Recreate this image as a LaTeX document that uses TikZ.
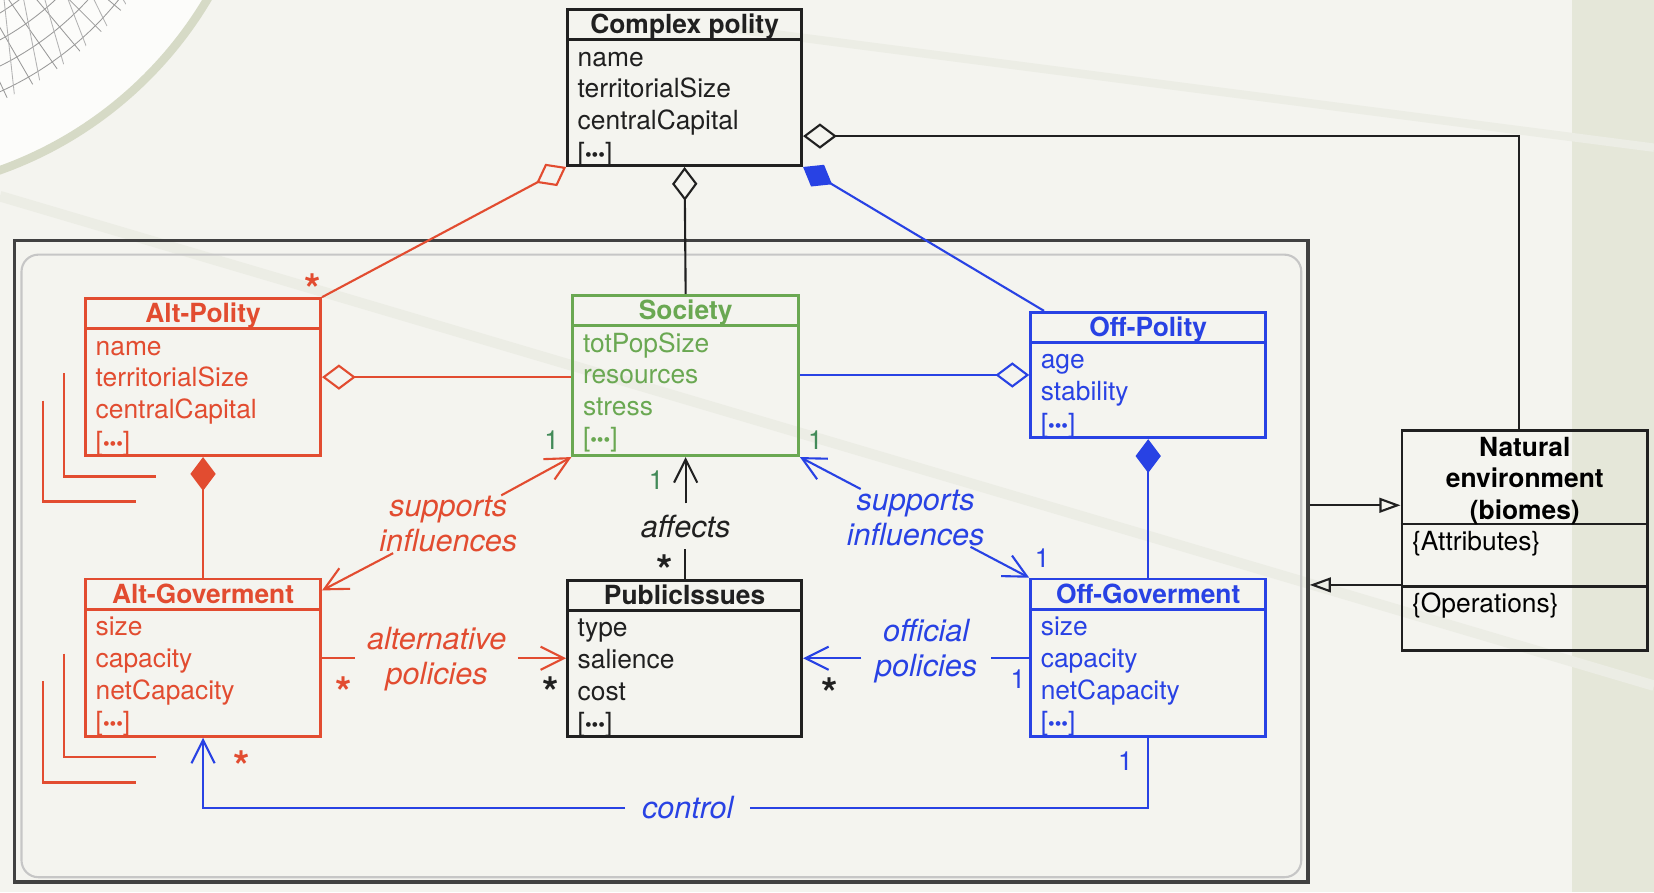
\documentclass[tikz,border=0pt]{standalone}
\usepackage{fontspec}
\setmainfont{TeX Gyre Heros}
\usetikzlibrary{arrows.meta,fit}

\definecolor{bg}{RGB}{244,244,239}
\definecolor{strip}{RGB}{229,231,217}
\definecolor{rim}{RGB}{214,218,198}
\definecolor{streak}{RGB}{236,237,229}
\definecolor{ink}{RGB}{32,32,32}
\definecolor{altred}{RGB}{226,76,48}
\definecolor{socgreen}{RGB}{106,168,82}
\definecolor{onegreen}{RGB}{66,138,88}
\definecolor{offblue}{RGB}{40,66,228}

\newcommand{\attmore}{[{\small•••}]}
% box, title bar, attributes
\newcommand{\umlclass}[6]{%
  \node[cls, draw=#2, fit={#3 #4}] (#1) {};
  \draw[#2, line width=1.3pt] ([yshift=-15pt]#1.north west) -- ([yshift=-15pt]#1.north east);
  \node[ttl, text=#2] (#1-t) at ([yshift=-7.5pt]#1.north) {#5};
  \node[att, text=#2] (#1-a) at ([yshift=-15pt]#1.north west) {\strut#6};}

\tikzset{cls/.style = {line width=1.3pt, inner sep=0pt},
    ttl/.style = {font=\fontsize{12.5}{15}\selectfont\bfseries, inner sep=0pt, text height=9pt, text depth=0pt},
    att/.style = {align=left, inner xsep=5pt, inner ysep=1.5pt, anchor=north west},
    lbl/.style = {font=\fontsize{14.5}{16.5}\selectfont\itshape, align=center, inner ysep=0pt},
    mult/.style = {inner sep=0pt},
    star/.style = {font=\fontsize{20}{20}\selectfont\bfseries, inner sep=0pt},
    agg/.style = {{Diamond[open, length=16pt, width=12pt]}-},
    comp/.style = {{Diamond[length=16pt, width=12pt]}-},
    nav/.style = {-{Straight Barb[length=11pt, width=11pt]}},
    gen/.style = {-{Triangle[open, length=10pt, width=7pt]}}}

\begin{document}
\begin{tikzpicture}[x=0.5pt, y=-0.5pt, line width=1pt, font=\fontsize{12.5}{15}\selectfont]
    \useasboundingbox (0,0) rectangle (1568,846);
    \fill[bg] (0,0) rectangle (1568,846);
    \fill[strip] (1490,0) rectangle (1568,846);
    \draw[streak, line width=5pt] (0,186) -- (1568,650);
    \draw[streak, line width=4pt] (700,28) -- (1568,140);

    % globe in the corner
    \coordinate (globe) at (-126,-192);
    \fill[white!70!bg] (globe) circle[radius=187.5pt];
    \begin{scope}
        \clip (globe) circle[radius=157pt];
        \foreach \r in {240,262,284,306} \draw[gray!80, line width=0.4pt] (globe) circle[radius=\r*0.5pt];
        \foreach \a in {30,35,...,75} \draw[gray!80, line width=0.4pt] ([shift={(\a:220)}]globe) -- ([shift={(\a:320)}]globe);
        \foreach \a in {30,35,...,75} \draw[gray!60, line width=0.4pt] ([shift={(\a:225)}]globe) -- ([shift={(\a+9:320)}]globe);
    \end{scope}
    \draw[rim, line width=4pt] (globe) circle[radius=187.5pt];

    % package frame
    \node[fit={(14,228) (1240,836)}, draw=ink!85, line width=1.6pt, inner sep=0pt] (frame) {};
    \draw[gray!45, rounded corners=8pt] ([shift={(8,15)}]frame.north west) rectangle ([shift={(-8,-6)}]frame.south east);

    \umlclass{cpol}{ink}{(538,9)}{(760,157)}{Complex polity}{name\\territorialSize\\centralCapital\\\attmore}
    \umlclass{altpol}{altred}{(81,283)}{(304,432)}{Alt-Polity}{name\\territorialSize\\centralCapital\\\attmore}
    \umlclass{soc}{socgreen}{(543,280)}{(757,432)}{Society}{totPopSize\\resources\\stress\\\attmore}
    \umlclass{offpol}{offblue}{(977,296)}{(1200,415)}{Off-Polity}{age\\stability\\\attmore}
    \umlclass{altgov}{altred}{(81,549)}{(304,698)}{Alt-Goverment}{size\\capacity\\netCapacity\\\attmore}
    \umlclass{issues}{ink}{(538,550)}{(760,698)}{PublicIssues}{type\\salience\\cost\\\attmore}
    \umlclass{offgov}{offblue}{(977,549)}{(1200,698)}{Off-Goverment}{size\\capacity\\netCapacity\\\attmore}

    % stacked instances
    \foreach \b in {altpol, altgov} {
        \draw[altred, line width=1.3pt] ([shift={(-19,72)}]\b.north west) |- ([shift={(68,170)}]\b.north west);
        \draw[altred, line width=1.3pt] ([shift={(-39,98)}]\b.north west) |- ([shift={(49,194)}]\b.north west);
    }

    \node[cls, draw=ink, fit={(1329,408) (1562,617)}] (nature) {};
    \draw[ink, line width=1.3pt] ([yshift=-45pt]nature.north west) -- ([yshift=-45pt]nature.north east);
    \draw[ink, line width=1.3pt] ([yshift=-74.5pt]nature.north west) -- ([yshift=-74.5pt]nature.north east);
    \node[font=\fontsize{12.5}{15}\selectfont\bfseries, align=center, inner sep=0pt] (nature-t) at ([yshift=-24.5pt]nature.north) {Natural\\environment\\(biomes)};
    \node[att] (nature-a) at ([yshift=-45pt]nature.north west) {\strut\{Attributes\}};
    \node[att] (nature-o) at ([yshift=-74.5pt]nature.north west) {\strut\{Operations\}};

    % wholes and parts
    \draw[ink, agg] ([yshift=-23pt]cpol.east) -| ([xshift=-2.75pt]nature.north);
    \draw[ink, agg] (cpol.south) -- (soc.north);
    \draw[altred, agg] (cpol.south west) -- (altpol.north east);
    \draw[offblue, comp] (cpol.south east) -- ([xshift=7pt]offpol.north west);
    \draw[altred, agg] (altpol.east) -- (altpol.east -| soc.west);
    \draw[offblue, agg] (offpol.west) -- (offpol.west -| soc.east);
    \draw[altred, comp] (altpol.south) -- (altgov.north);
    \draw[offblue, comp] (offpol.south) -- (offgov.north);

    % named associations
    \node[lbl, text=altred, inner xsep=1pt] (supalt) at (425,497) {supports\\influences};
    \draw[altred, nav] (supalt) -- (soc.south west);
    \draw[altred, nav] (supalt) -- ([yshift=-6pt]altgov.north east);
    \node[lbl, text=offblue, inner xsep=1pt] (supoff) at (868,491) {supports\\influences};
    \draw[offblue, nav] (supoff) -- (soc.south east);
    \draw[offblue, nav] (supoff) -- (offgov.north west);
    \node[lbl, text=ink, inner ysep=5pt] (aff) at (650,499) {affects};
    \draw[ink, nav] (soc.south |- aff.north) -- (soc.south);
    \draw[ink] (issues.north) -- (issues.north |- aff.south);
    \node[lbl, text=altred, inner xsep=5pt] (altpl) at (414,625) {alternative\\policies};
    \draw[altred] (altgov.east) -- (altgov.east -| altpl.west);
    \draw[altred, nav] (altpl.east |- issues.west) -- (issues.west);
    \node[lbl, text=offblue, inner xsep=6pt] (offpl) at (878,617) {official\\policies};
    \draw[offblue] (offgov.west) -- (offgov.west -| offpl.east);
    \draw[offblue, nav] (offpl.west |- issues.east) -- (issues.east);
    \node[lbl, text=offblue, inner xsep=7.5pt] (ctrl) at (652,766) {control};
    \draw[offblue] (offgov.south) |- (ctrl.east);
    \draw[offblue, nav] (ctrl.west) -| (altgov.south);

    % environment
    \draw[ink, gen] ([yshift=26.5pt]frame.east) -- ([yshift=26.5pt]frame.east -| nature.west);
    \draw[ink, gen] ([yshift=-21pt]nature.west) -- ([yshift=-21pt]nature.west -| frame.east);

    % multiplicities
    \foreach \c/\x/\y [count=\i] in {onegreen/523/417, onegreen/773/417, onegreen/622/455,
            offblue/988/529, offblue/965/644, offblue/1067/722}
        \node[mult, text=\c] (one\i) at (\x,\y) {1};
    \foreach \c/\x/\y [count=\i] in {altred/296/265, ink/630/531, altred/326/647,
            ink/522/647, ink/787/648, altred/229/717}
        \node[star, text=\c] (many\i) at (\x,\y) {\raisebox{-0.45em}[0.3em][0pt]{*}};
\end{tikzpicture}
\end{document}
